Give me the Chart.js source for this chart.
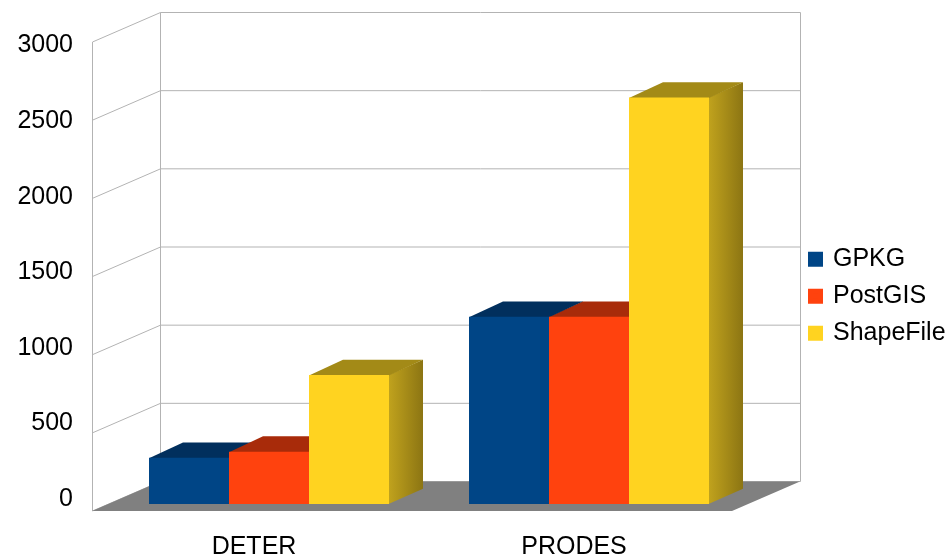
<!DOCTYPE html>
<html lang="en">
<head>
<meta charset="UTF-8">
<title>GPKG / PostGIS / ShapeFile</title>
<style>
    body { margin: 0; background: #fff; }
    #chart { display: block; }
</style>
</head>
<body>
<canvas id="chart" width="951" height="556"></canvas>
<script src="https://cdn.jsdelivr.net/npm/chart.js"></script>
<script>
const categories = ['DETER', 'PRODES'];
const gpkg = [296, 1198];
const postgis = [335, 1198];
const shapefile = [825, 2600];
const yTicks = [0, 500, 1000, 1500, 2000, 2500, 3000];

// fake 3D: offset of the back wall, of the bar row, and the bar depth
const WALL = { dx: 68, dy: -29.5 };
const BAR_SHIFT = { dx: 17, dy: -7 };
const BAR_DEPTH = { dx: 34, dy: -15.3 };

// darker colours for top and side faces, per dataset
const faces = [
    { top: '#012f5d', side: ['#003a6e', '#00264a'] },
    { top: '#a82b0a', side: ['#c2300b', '#8c2307'] },
    { top: '#a38a17', side: ['#c0a21d', '#8c7513'] }
];

Chart.defaults.font.family = "'Liberation Sans', Arial, sans-serif";
Chart.defaults.font.size = 25;
Chart.defaults.color = '#000';

const box3d = {
    id: 'box3d',
    afterLayout(chart) {
        // put the legend where the original has it
        const lg = chart.legend;
        lg.left = 798.5; lg.right = 951; lg.width = lg.right - lg.left;
        lg.top = 234.7; lg.bottom = 556; lg.height = lg.bottom - lg.top;
    },
    beforeDatasetsDraw(chart) {
        const { ctx, chartArea: a, scales: { y } } = chart;
        const bl = a.left + WALL.dx, br = a.right + WALL.dx;
        const top = y.getPixelForValue(y.max), bot = y.getPixelForValue(y.min);
        ctx.save();
        ctx.strokeStyle = '#b3b3b3';
        ctx.lineWidth = 1;
        ctx.beginPath();
        yTicks.forEach(v => {
            const yf = y.getPixelForValue(v), yb = yf + WALL.dy;
            ctx.moveTo(a.left + 0.5, yf);
            ctx.lineTo(bl + 0.5, yb);
            ctx.lineTo(br + 0.5, yb);
        });
        ctx.moveTo(a.left + 0.5, top); ctx.lineTo(a.left + 0.5, bot);
        ctx.moveTo(bl + 0.5, top + WALL.dy); ctx.lineTo(bl + 0.5, bot + WALL.dy);
        ctx.moveTo(br + 0.5, top + WALL.dy); ctx.lineTo(br + 0.5, bot + WALL.dy);
        ctx.stroke();

        // floor
        ctx.fillStyle = '#808080';
        ctx.beginPath();
        ctx.moveTo(a.left, bot);
        ctx.lineTo(a.right, bot);
        ctx.lineTo(br, bot + WALL.dy);
        ctx.lineTo(bl, bot + WALL.dy);
        ctx.closePath();
        ctx.fill();

        // side and top faces of every bar, left to right; the front faces
        // that Chart.js paints afterwards hide what a neighbour would cover
        ctx.translate(BAR_SHIFT.dx, BAR_SHIFT.dy);
        const { dx, dy } = BAR_DEPTH;
        chart.data.datasets.forEach((ds, i) => {
            const f = faces[i];
            chart.getDatasetMeta(i).data.forEach(bar => {
                const { x, y: yt, base, width } = bar.getProps(['x', 'y', 'base', 'width'], true);
                const l = x - width / 2, r = x + width / 2;
                const g = ctx.createLinearGradient(r, 0, r + dx, 0);
                g.addColorStop(0, f.side[0]);
                g.addColorStop(1, f.side[1]);
                ctx.fillStyle = g;
                ctx.beginPath();
                ctx.moveTo(r - 0.5, yt); ctx.lineTo(r + dx, yt + dy);
                ctx.lineTo(r + dx, base + dy); ctx.lineTo(r - 0.5, base);
                ctx.closePath();
                ctx.fill();

                ctx.fillStyle = f.top;
                ctx.beginPath();
                ctx.moveTo(l, yt + 0.5); ctx.lineTo(r, yt + 0.5);
                ctx.lineTo(r + dx, yt + dy); ctx.lineTo(l + dx, yt + dy);
                ctx.closePath();
                ctx.fill();
            });
        });
        ctx.restore();
    },
    beforeDatasetDraw(chart) {
        chart.ctx.save();
        chart.ctx.translate(BAR_SHIFT.dx, BAR_SHIFT.dy);
    },
    afterDatasetDraw(chart) {
        chart.ctx.restore();
    }
};

new Chart(document.getElementById('chart'), {
    type: 'bar',
    data: {
        labels: categories,
        datasets: [
            { label: 'GPKG', data: gpkg, backgroundColor: '#004586' },
            { label: 'PostGIS', data: postgis, backgroundColor: '#ff420e' },
            { label: 'ShapeFile', data: shapefile, backgroundColor: '#ffd320' }
        ]
    },
    options: {
        responsive: false,
        animation: false,
        events: [],
        layout: { padding: { top: 42, right: 69, bottom: 0, left: 0 } },
        datasets: {
            bar: { barPercentage: 1, categoryPercentage: 0.75, borderWidth: 0, clip: false }
        },
        scales: {
            x: {
                grid: { display: false, drawTicks: false },
                border: { display: false },
                ticks: { padding: 21, labelOffset: 2 },
                afterFit: s => { s.height = 45; }
            },
            y: { display: false, min: 0, max: 3000 },
            yl: {
                type: 'linear',
                position: 'left',
                min: -79.4,
                max: 3023.1,
                grid: { display: false, drawTicks: false },
                border: { display: false },
                ticks: { padding: 19, callback: v => String(v) },
                afterBuildTicks: s => { s.ticks = yTicks.map(v => ({ value: v })); },
                afterFit: s => { s.width = 92; }
            }
        },
        plugins: {
            tooltip: { enabled: false },
            legend: {
                position: 'right',
                align: 'start',
                maxWidth: 150,
                labels: {
                    boxWidth: 10,
                    boxHeight: 10,
                    padding: 12,
                    generateLabels: chart => Chart.defaults.plugins.legend.labels.generateLabels(chart)
                        .sort((a, b) => a.datasetIndex - b.datasetIndex)
                        .map(item => Object.assign(item, { lineWidth: 5, strokeStyle: item.fillStyle }))
                }
            }
        }
    },
    plugins: [box3d]
});
</script>
</body>
</html>
